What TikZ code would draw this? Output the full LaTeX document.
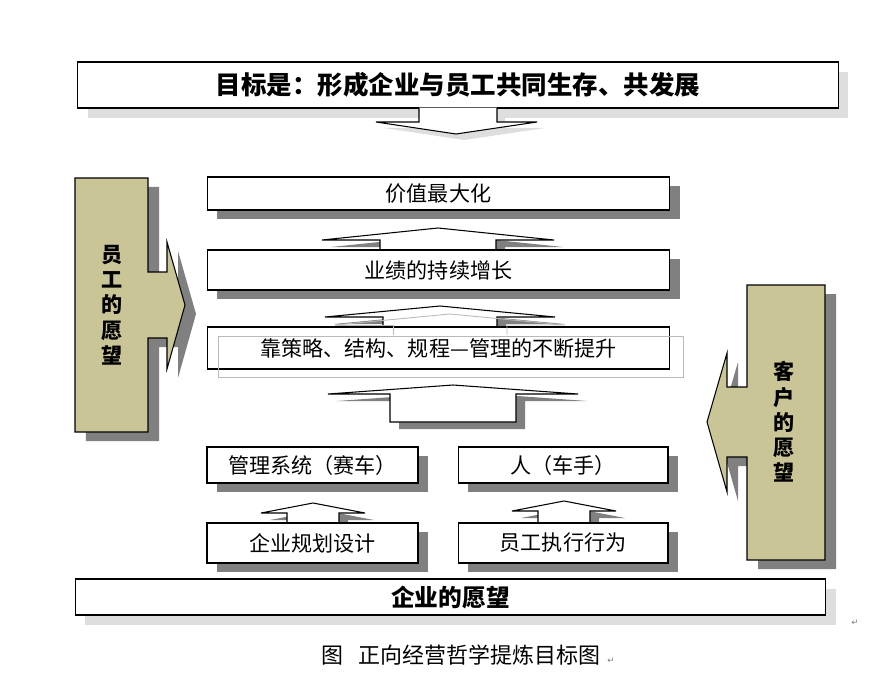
\documentclass[tikz,border=0pt]{standalone}
\usepackage{fontspec}
\newfontfamily\cjk{Noto Sans CJK SC}
\newfontfamily\symfont{DejaVu Sans}
\usetikzlibrary{positioning,shadows}

\definecolor{wishfill}{RGB}{201,197,150}
\definecolor{shadowgray}{RGB}{128,128,128}
\definecolor{softgray}{RGB}{222,222,222}

\begin{document}
\begin{tikzpicture}[x=0.02cm, y=-0.02cm,
    every node/.style={font=\cjk\fontsize{12}{14}\selectfont},
    box/.style={draw, line width=0.6pt, fill=white, inner sep=0pt,
      drop shadow={shadow xshift=0.2cm, shadow yshift=-0.18cm, fill=shadowgray, opacity=1}},
    flatbox/.style={draw, line width=0.6pt, fill=white, inner sep=0pt,
      drop shadow={shadow xshift=0.2cm, shadow yshift=-0.2cm, fill=softgray, opacity=1}},
    wish/.style={draw, line width=0.6pt, fill=wishfill,
      drop shadow={shadow xshift=0.22cm, shadow yshift=-0.18cm, fill=shadowgray, opacity=1}},
    blockarrow/.style={draw, line width=0.6pt, fill=white,
      drop shadow={shadow xshift=0.18cm, shadow yshift=-0.14cm, fill=shadowgray, opacity=1}},
    ghost/.style={draw=gray!55, line width=0.5pt},
    vtext/.style={font=\cjk\bfseries\fontsize{12}{14.4}\selectfont, align=center}]

  \useasboundingbox (0,0) rectangle (884,682);

  % Side wishes (block arrows pointing inwards)
  \draw[wish] (75,178) -- (148,178) -- (148,272) -- (167,272) -- (167,242)
    -- (185,305) -- (167,369) -- (167,338) -- (148,338) -- (148,432)
    -- (75,432) -- cycle;
  \node[vtext] (staffwish) at (112,305) {员\\工\\的\\愿\\望};

  \draw[wish] (825,285) -- (747,285) -- (747,387) -- (727,387) -- (727,353)
    -- (707,422) -- (727,492) -- (727,457) -- (747,457) -- (747,560)
    -- (825,560) -- cycle;
  \node[vtext] (clientwish) at (784,422) {客\\户\\的\\愿\\望};

  % Up arrows between the boxes
  \foreach \tx/\ty/\hh/\hy/\hs/\by in {438/228/116/240/58/250,
    440/306/115/317/57/327, 453/385/125/394/63/422,
    313/503/52/513/26/524, 564/501/52/511/26/523} {
    \draw[blockarrow] ({\tx-\hh},\hy) -- (\tx,\ty) -- ({\tx+\hh},\hy)
      -- ({\tx+\hs},\hy) -- ({\tx+\hs},\by) -- ({\tx-\hs},\by)
      -- ({\tx-\hs},\hy) -- cycle;
  }

  % Goal on top
  \node[flatbox, minimum width=15.22cm, minimum height=0.92cm,
    font=\cjk\bfseries\fontsize{14.5}{17}\selectfont] (goal) at (458,85)
    {目标是：形成企业与员工共同生存、共发展};
  \path[fill=white, drop shadow={shadow xshift=0.16cm, shadow yshift=-0.12cm, fill=softgray, opacity=1}]
    (419,107.6) -- (497,107.6) -- (497,122) -- (537,122) -- (456,134)
    -- (376,122) -- (419,122) -- cycle;
  \draw[line width=0.6pt] (419,108) -- (419,122) -- (376,122) -- (456,134)
    -- (537,122) -- (497,122) -- (497,108);

  % Middle column
  \node[box, minimum width=9.26cm, minimum height=0.66cm] (value) at (438.5,193.5) {价值最大化};
  \node[box, minimum width=9.26cm, minimum height=0.8cm] (growth) at (438.5,270) {业绩的持续增长};
  \node[draw, line width=0.6pt, fill=white, minimum width=9.26cm, minimum height=0.84cm,
    inner sep=0pt] (improve) at (438.5,348) {靠策略、结构、规程—管理的不断提升};
  \draw[ghost] (218,336) rectangle (683,377);
  \draw[ghost] (335,325) -- (450,314) -- (565,325) -- (507,325) -- (507,335);
  \draw[ghost] (335,325) -- (393,325) -- (393,335);

  % Lower boxes
  \node[box, minimum width=4.22cm, minimum height=0.72cm] (system) at (312.5,465) {管理系统（赛车）};
  \node[box, minimum width=4.2cm, minimum height=0.72cm] (driver) at (563,465) {人（车手）};
  \node[box, minimum width=4.22cm, minimum height=0.8cm] (plan) at (312.5,543) {企业规划设计};
  \node[box, minimum width=4.2cm, minimum height=0.8cm] (action) at (563,543) {员工执行行为};

  % Base
  \node[flatbox, minimum width=15.02cm, minimum height=0.72cm,
    font=\cjk\bfseries\fontsize{13.5}{16}\selectfont] (base) at (450.5,597) {企业的愿望};

  % Caption
  \node[font=\cjk\fontsize{12.5}{15}\selectfont] (caption) at (461,655)
    {图\hspace{0.7em}正向经营哲学提炼目标图};
  \node[font=\symfont\fontsize{5}{6}\selectfont, text=gray] (markA) at (611,661) {↵};
  \node[font=\symfont\fontsize{5}{6}\selectfont, text=gray] (markB) at (855,623) {↵};
\end{tikzpicture}
\end{document}
